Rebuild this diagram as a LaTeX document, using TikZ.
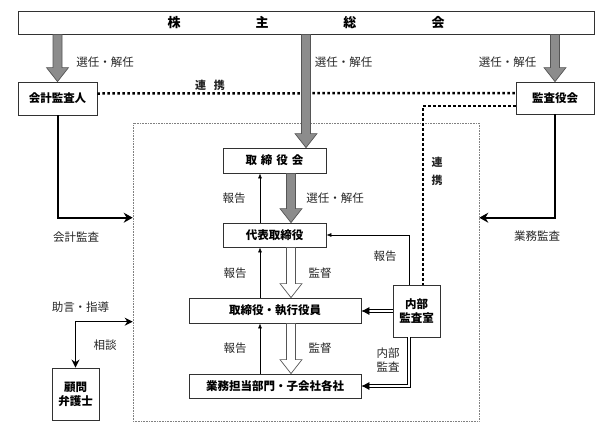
\documentclass[tikz,border=0pt]{standalone}
\usepackage{fontspec}
\newfontfamily\jp{Noto Sans CJK JP}
\usetikzlibrary{arrows.meta,calc}
\definecolor{arrowgray}{RGB}{140,140,140}
\definecolor{edgegray}{RGB}{85,85,85}
\definecolor{boxline}{RGB}{50,50,50}
\tikzset{
  box/.style={draw=boxline, line width=0.8pt, fill=white, inner sep=0pt,
    font=\jp\bfseries\fontsize{11.5}{14}\selectfont, align=center},
  lbl/.style={font=\jp\fontsize{11.5}{14}\selectfont, inner sep=0pt, text=black!85, align=center},
  fatgray/.style={fill=arrowgray, draw=edgegray, line width=0.7pt},
  fatopen/.style={fill=white, draw=edgegray, line width=0.7pt},
  dots/.style={line width=2.5pt, dash pattern=on 2.5pt off 2.5pt},
  audit/.style={line width=2pt, -{Stealth[length=9pt,width=10pt]}},
  report/.style={line width=0.6pt, -{Latex[length=5pt,width=4pt]}},
  dblline/.style={draw=black, line width=3.2pt, postaction={draw=white, line width=1.6pt}},
  dbltip/.style={-{Latex[length=8pt,width=8pt]}, line width=0.6pt},
}
\newcommand{\fatarrow}[3]{%
  \path #2 coordinate (fa1) #3 coordinate (fa2);
  \draw[#1] let \p1=(fa1), \p2=(fa2) in
   (\x1-4.5pt,\y1) -- (\x1-4.5pt,\y2+14pt) -- (\x1-11pt,\y2+14pt) -- (\x1,\y2)
   -- (\x1+11pt,\y2+14pt) -- (\x1+4.5pt,\y2+14pt) -- (\x1+4.5pt,\y1) -- cycle;}
\begin{document}
\begin{tikzpicture}[x=1pt,y=-1pt]
\useasboundingbox (0,0) rectangle (611,432);
% frame
\node[draw=gray, densely dotted, line width=0.6pt, minimum width=346pt, minimum height=298pt, inner sep=0pt] (frame) at (306,272) {};
% boxes
\node[box, minimum width=576pt, minimum height=23pt, font=\jp\bfseries\fontsize{13}{15}\selectfont] (kabu) at (306,22.5) {株\hspace{75pt}主\hspace{75pt}総\hspace{75pt}会};
\node[box, minimum width=79pt, minimum height=33pt] (kaikei) at (57.5,98.5) {会計監査人};
\node[box, minimum width=78pt, minimum height=32pt] (kansa) at (555,98) {監査役会};
\node[box, minimum width=103pt, minimum height=25pt] (torikai) at (274.5,160.5) {取\hspace{4pt}締\hspace{4pt}役\hspace{4pt}会};
\node[box, minimum width=103pt, minimum height=24pt] (daihyo) at (274.5,235) {代表取締役};
\node[box, minimum width=172pt, minimum height=25pt] (shikko) at (275,310.5) {取締役・執行役員};
\node[box, minimum width=172pt, minimum height=24pt] (gyomu) at (275,386) {業務担当部門・子会社各社};
\node[box, minimum width=47pt, minimum height=52pt] (naibu) at (416.5,311) {内部\\監査室};
\node[box, minimum width=47pt, minimum height=52pt] (komon) at (75.5,394) {顧問\\弁護士};
% dotted cooperation lines
\draw[dots] ($(kaikei.east)+(0,-5)$) -- ($(kansa.west)+(0,-5)$);
\draw[dots] ($(kansa.west)+(0,8)$) -| ($(naibu.north)+(6.5,0)$);
% fat arrows
\fatarrow{fatgray}{(kaikei.north |- kabu.south)}{(kaikei.north)}
\fatarrow{fatgray}{(kansa.north |- kabu.south)}{(kansa.north)}
\coordinate (c1) at ($(torikai.north)+(31.5,0)$);
\fatarrow{fatgray}{(c1 |- kabu.south)}{(c1)}
\coordinate (c2) at ($(torikai.south)+(16.5,0)$);
\fatarrow{fatgray}{(c2)}{(c2 |- daihyo.north)}
\coordinate (c3) at ($(daihyo.south)+(16.5,0)$);
\fatarrow{fatopen}{(c3)}{(c3 |- shikko.north)}
\coordinate (c4) at ($(shikko.south)+(16,0)$);
\fatarrow{fatopen}{(c4)}{(c4 |- gyomu.north)}
% report arrows
\coordinate (r1) at ($(daihyo.north)+(-14.5,0)$);
\draw[report] (r1) -- (r1 |- torikai.south);
\coordinate (r2) at ($(shikko.north)+(-15,0)$);
\draw[report] (r2) -- (r2 |- daihyo.south);
\coordinate (r3) at ($(gyomu.north)+(-15,0)$);
\draw[report] (r3) -- (r3 |- shikko.south);
\draw[report] ($(naibu.north)+(-7.5,0)$) |- (daihyo.east);
% internal audit double arrows
\coordinate (d1) at ($(naibu.west -| shikko.east)+(7,0)$);
\draw[dblline] (naibu.west) -- (d1);
\draw[dbltip] (d1) -- (naibu.west -| shikko.east);
\coordinate (d2s) at ($(naibu.south)+(-7.5,0)$);
\coordinate (d2) at ($(gyomu.east)+(7,0)$);
\draw[dblline] (d2s) |- (d2);
\draw[dbltip] (d2) -- (gyomu.east);
% audit arrows
\coordinate (fl) at ($(frame.north west)+(0,95)$);
\coordinate (fr) at ($(frame.north east)+(0,95)$);
\draw[audit] (kaikei.south) |- (fl);
\draw[audit] (kansa.south) |- (fr);
\coordinate (fk) at ($(frame.north west)+(0,199)$);
\draw[line width=1.3pt, {Stealth[length=8pt,width=8pt]}-{Stealth[length=8pt,width=8pt]}] (komon.north) |- (fk);
% labels
\node[lbl] (l1) at (105,62) {選任・解任};
\node[lbl] (l2) at (343.5,62) {選任・解任};
\node[lbl] (l3) at (507.5,62) {選任・解任};
\node[lbl, font=\jp\bfseries\fontsize{11}{14}\selectfont] (l4) at (210,85) {連\hspace{8pt}携};
\node[lbl] (l5) at (76,237) {会計監査};
\node[lbl] (l6) at (537,236) {業務監査};
\node[lbl] (l7) at (80.5,307) {助言・指導};
\node[lbl] (l8) at (105,345) {相談};
\node[lbl] (l9) at (234,198) {報告};
\node[lbl] (l10) at (335,198) {選任・解任};
\node[lbl] (l11) at (235,273) {報告};
\node[lbl] (l12) at (320,273) {監督};
\node[lbl] (l13) at (235,348) {報告};
\node[lbl] (l14) at (320,348) {監督};
\node[lbl] (l15) at (385,256) {報告};
\node[lbl] (l16) at (388,360) {内部\\監査};
\node[lbl, font=\jp\bfseries\fontsize{11}{14}\selectfont] (l17) at (437,162) {連};
\node[lbl, font=\jp\bfseries\fontsize{11}{14}\selectfont] (l18) at (437,180) {携};
\end{tikzpicture}
\end{document}
